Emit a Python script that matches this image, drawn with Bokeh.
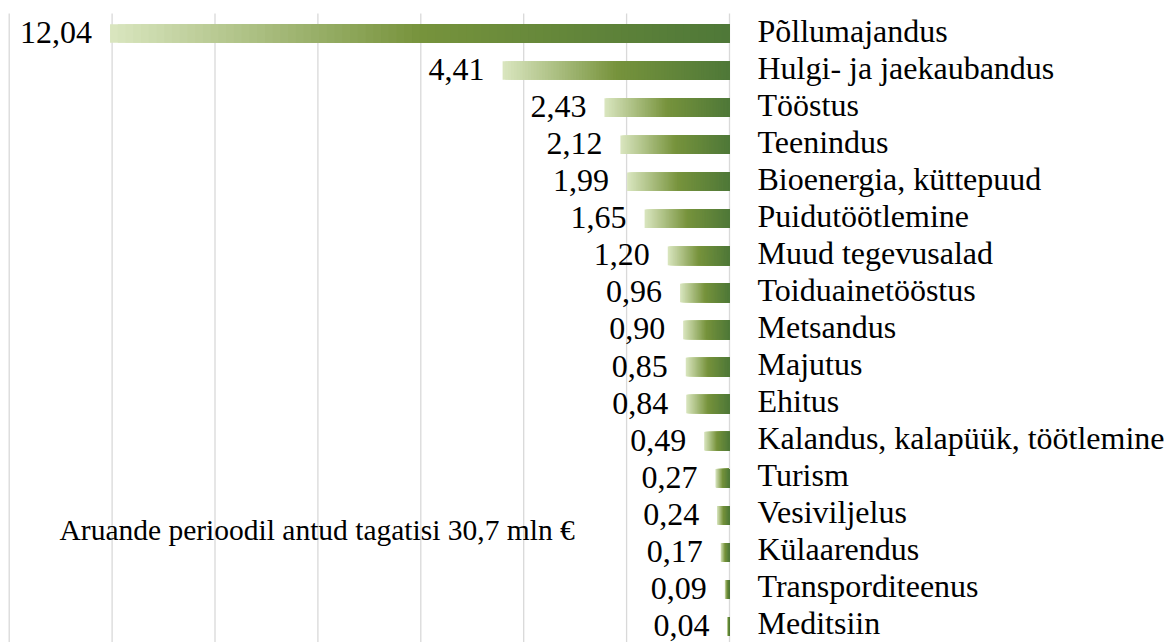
import numpy as np
from bokeh.plotting import figure
from bokeh.models import ColumnDataSource, Range1d, Label
from bokeh.core.properties import value
from bokeh.embed import file_html
from bokeh.resources import INLINE

# ---- data ----
categories = ["Põllumajandus", "Hulgi- ja jaekaubandus", "Tööstus", "Teenindus",
              "Bioenergia, küttepuud", "Puidutöötlemine", "Muud tegevusalad",
              "Toiduainetööstus", "Metsandus", "Majutus", "Ehitus",
              "Kalandus, kalapüük, töötlemine", "Turism", "Vesiviljelus",
              "Külaarendus", "Transporditeenus", "Meditsiin"]
values = [12.04, 4.41, 2.43, 2.12, 1.99, 1.65, 1.20, 0.96, 0.90, 0.85, 0.84,
          0.49, 0.27, 0.24, 0.17, 0.09, 0.04]
grid_ticks = [0, 2, 4, 6, 8, 10, 12, 14]
annotation_text = "Aruande perioodil antud tagatisi 30,7 mln €"

# gradient stops: t=0 far end (light) -> t=1 at zero (dark)
stops = [(0.0, (218, 230, 192)), (0.5, (119, 147, 60)), (1.0, (78, 120, 56))]

def grad_color(t):
    for (t0, c0), (t1, c1) in zip(stops[:-1], stops[1:]):
        if t <= t1:
            u = (t - t0) / (t1 - t0)
            c = [int(round(a + (b - a) * u)) for a, b in zip(c0, c1)]
            return "#%02x%02x%02x" % tuple(c)
    return "#%02x%02x%02x" % stops[-1][1]

FONT = "Liberation Serif"
N = 80
ys = list(range(len(categories)))

# gradient slices: each slice spans from zero to a fraction of the bar,
# drawn longest first so the visible parts form a smooth gradient
sl_y, sl_right, sl_color = [], [], []
for i, v in enumerate(values):
    for k in range(N):
        frac = (N - k) / N
        f_center = (N - k - 0.5) / N
        sl_y.append(i)
        sl_right.append(v * frac)
        sl_color.append(grad_color(1.0 - f_center))

slices = ColumnDataSource(dict(y=sl_y, left=[0] * len(sl_y), right=sl_right, color=sl_color))
val_src = ColumnDataSource(dict(x=values, y=ys,
                                text=[f"{v:.2f}".replace(".", ",") for v in values]))
cat_src = ColumnDataSource(dict(x=[0] * len(categories), y=ys, text=categories))

W, H = 1167, 642
px_per_unit = (729 - 8.7) / 14
row_px = 37.06
first_row = 33
x_left = 14 + 8.7 / px_per_unit
x_right = -(W - 729) / px_per_unit
y_top = -first_row / row_px
y_bot = (H - first_row) / row_px
grid_top = -(first_row - 13) / row_px   # gridlines start ~13px below the top

p = figure(width=W, height=H, output_backend="svg", toolbar_location=None,
           x_range=Range1d(x_left, x_right), y_range=Range1d(y_bot, y_top),
           x_axis_location=None, y_axis_location=None, min_border=0,
           background_fill_color="white", border_fill_color="white")
p.outline_line_color = None
p.xgrid.visible = False
p.ygrid.visible = False

# vertical gridlines
p.segment(x0=grid_ticks, x1=grid_ticks, y0=[grid_top] * len(grid_ticks),
          y1=[y_bot] * len(grid_ticks), line_color="#d9d9d9", line_width=1.3)

p.hbar(y="y", left="left", right="right", height=0.5, fill_color="color",
       line_color=None, source=slices)

p.text(x="x", y="y", text="text", source=val_src, text_font=value(FONT),
       text_font_size="32px", text_align="right", text_baseline="alphabetic",
       x_offset=-18, y_offset=-1, text_color="black")
p.text(x="x", y="y", text="text", source=cat_src, text_font=value(FONT),
       text_font_size="32px", text_align="left", text_baseline="alphabetic",
       x_offset=28, y_offset=-3, text_color="black")

ann_x = 14 - (59 - 8.7) / px_per_unit
ann_y = (529 - first_row) / row_px
p.add_layout(Label(x=ann_x, y=ann_y, text=annotation_text, text_font=FONT,
                   text_font_size="29.5px", text_baseline="alphabetic",
                   text_color="black"))

open("out.html", "w").write(file_html(p, INLINE))
